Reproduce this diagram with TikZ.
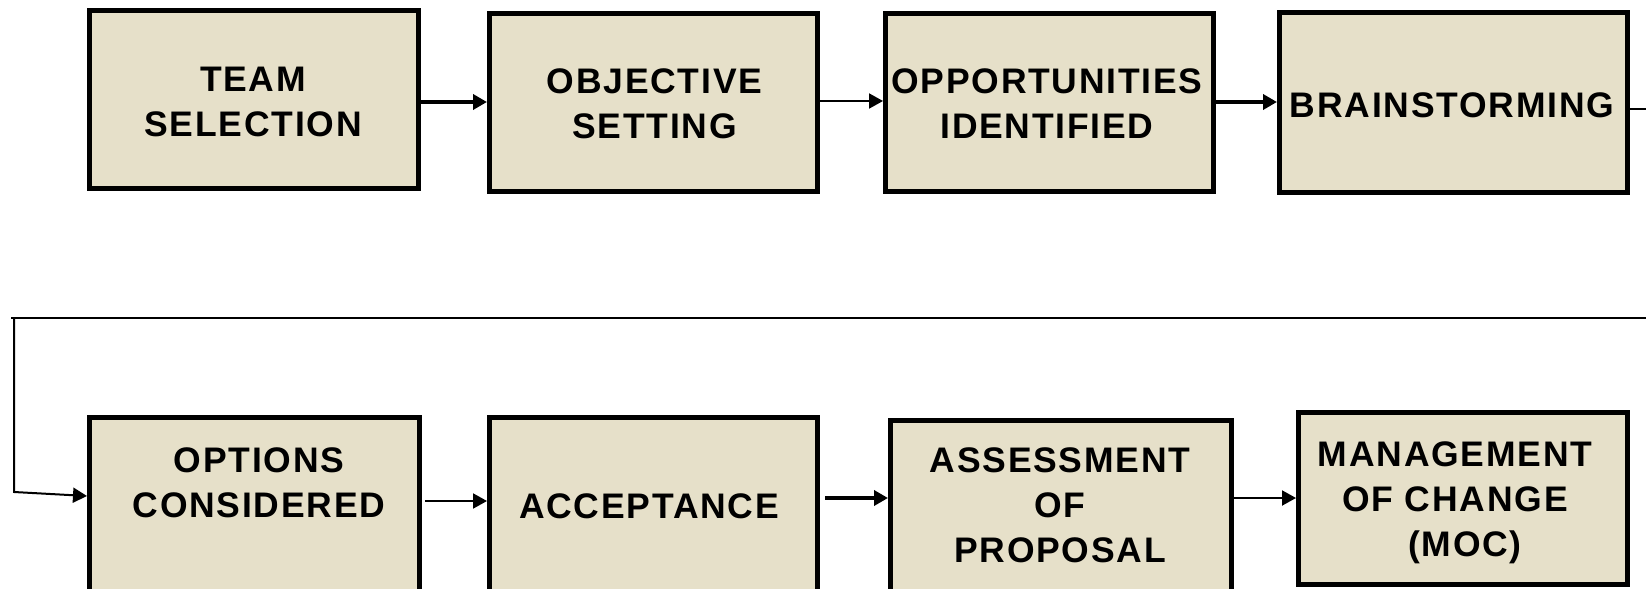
\documentclass[tikz,border=0pt]{standalone}
\usepackage{fontspec}
\setmainfont{Liberation Sans}
\usetikzlibrary{arrows.meta}
\definecolor{boxfill}{RGB}{230,224,201}
\begin{document}
\begin{tikzpicture}[x=1bp,y=-1bp,
  stage/.style={draw=black, line width=5bp, fill=boxfill, inner sep=0pt},
  caption/.style={align=center, inner sep=0pt,
    font=\fontsize{35.5bp}{45bp}\selectfont\bfseries\addfontfeature{LetterSpace=5}},
  tip/.style={-{Triangle[length=14bp,width=15bp]}},
  thinlink/.style={line width=2bp, tip},
  thicklink/.style={line width=4bp, tip},
  wire/.style={line width=2.5bp}]
\useasboundingbox (0,0) rectangle (1646,589);
\clip (0,0) rectangle (1646,589);

% upper row of stages
\node[stage, minimum width=329bp, minimum height=178bp] (team)  at (254,99.5)   {};
\node[stage, minimum width=328bp, minimum height=178bp] (obj)   at (653.5,102.5) {};
\node[stage, minimum width=328bp, minimum height=178bp] (opp)   at (1049.5,102.5) {};
\node[stage, minimum width=348bp, minimum height=180bp] (brain) at (1453.5,102.5) {};

% lower row of stages (running off the bottom edge)
\node[stage, minimum width=330bp, minimum height=185bp] (opt)    at (254.5,510) {};
\node[stage, minimum width=328bp, minimum height=185bp] (acc)    at (653.5,510) {};
\node[stage, minimum width=341bp, minimum height=182bp] (assess) at (1061,511.5) {};
\node[stage, minimum width=329bp, minimum height=172bp] (moc)    at (1463,498.5) {};

% captions
\node[caption] (teamT)   at (253,101.5)  {TEAM\\SELECTION};
\node[caption] (objT)    at (654.5,104)  {OBJECTIVE\\SETTING};
\node[caption] (oppT)    at (1047,104)   {OPPORTUNITIES\\IDENTIFIED};
\node[caption] (brainT)  at (1452,105)   {BRAINSTORMING};
\node[caption] (optT)    at (259,482.5)  {OPTIONS\\CONSIDERED};
\node[caption] (accT)    at (649,506)    {ACCEPTANCE};
\node[caption] (assessT) at (1060,505.5) {ASSESSMENT\\OF\\PROPOSAL};
\node[caption] (mocT)    at (1455,503)   {MANAGEMENT\\OF CHANGE\\\hspace*{20bp}(MOC)};

% links along the upper row
\draw[thicklink] (team.east |- 0,102) -- (obj.west |- 0,102);
\draw[thinlink]  (obj.east |- 0,101)  -- (opp.west |- 0,101);
\draw[thicklink] (opp.east |- 0,102)  -- (brain.west |- 0,102);

% return path from the upper row to the lower row
\coordinate (exitR) at (1646,109);
\coordinate (retR)  at (1646,318);
\coordinate (retL)  at (11,318);
\coordinate (turn)  at (14,318);
\coordinate (drop)  at (14,492);
\draw[line width=2bp] (brain.east |- 0,109) -- (exitR);
\draw[wire] (retR) -- (retL);
\draw[thinlink] (turn) -- (drop) -- (opt.west |- 0,496);

% links along the lower row
\draw[thinlink]  ([xshift=3bp]opt.east |- 0,501) -- (acc.west |- 0,501);
\draw[thicklink] ([xshift=5bp]acc.east |- 0,498) -- (assess.west |- 0,498);
\draw[thinlink]  (assess.east |- 0,498) -- (moc.west |- 0,498);
\end{tikzpicture}
\end{document}
